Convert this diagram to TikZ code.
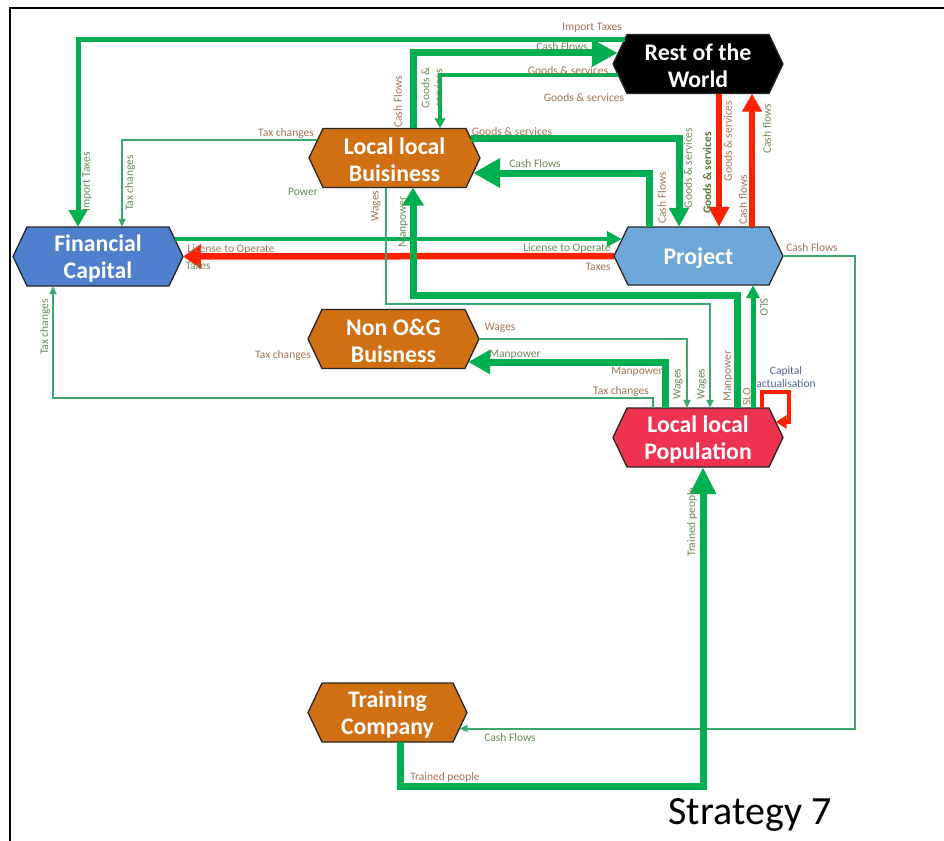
\documentclass[tikz,border=0pt]{standalone}
\usepackage{fontspec}
\setmainfont{Carlito}
\usetikzlibrary{arrows.meta}
\definecolor{gthick}{RGB}{0,176,80}
\definecolor{gthin}{RGB}{60,168,110}
\definecolor{rred}{RGB}{255,32,0}
\definecolor{lbrown}{RGB}{165,115,85}
\definecolor{lgreen}{RGB}{105,140,85}
\definecolor{ldgreen}{RGB}{80,120,50}
\definecolor{capblue}{RGB}{85,100,150}
\definecolor{orangefill}{RGB}{208,112,18}
\definecolor{fcblue}{RGB}{80,128,205}
\definecolor{prblue}{RGB}{110,168,218}
\definecolor{popred}{RGB}{238,50,80}
\tikzset{
  hexbound/.style={inner sep=0pt, draw=none},
  hextext/.style={inner sep=0pt, text=white, align=center,
    font=\fontsize{23.8}{27}\selectfont\bfseries},
  gfat/.style={draw=gthick, line width=7pt, line join=miter},
  gmed/.style={draw=gthick, line width=5pt, line join=miter},
  gnar/.style={draw=gthin, line width=2pt, line join=miter},
  rfat/.style={draw=rred, line width=6.5pt, line join=miter},
  smallhead/.style={-{Triangle[length=8pt,width=7pt]}},
  lab/.style={inner sep=0pt, font=\fontsize{11.5}{13}\selectfont},
  lb/.style={lab, text=lbrown},
  lg/.style={lab, text=lgreen},
}
\newcommand\hexshape[7]{%
  \filldraw[fill=#6, draw=black!85, line width=1.3pt]
    ({#2-#4},#3) -- ({#2-#4+14},{#3-#5}) -- ({#2+#4-14},{#3-#5}) --
    ({#2+#4},#3) -- ({#2+#4-14},{#3+#5}) -- ({#2-#4+14},{#3+#5}) -- cycle;
  \node[hexbound, minimum width={2*#4}, minimum height={2*#5}] (#1) at (#2,#3) {};
  \node[hextext] (#1t) at (#2,{#3+2}) {#7};
}
\begin{document}
\begin{tikzpicture}[x=1pt,y=-1pt]
\useasboundingbox (0,0) rectangle (944,840);
\fill[white] (0,0) rectangle (944,840);
\draw[black, line width=2pt] (10,842) -- (10,8) -- (946,8);

% nodes
\hexshape{rw}{698}{64}{85}{29.5}{black}{Rest of the\\World}
\hexshape{lbz}{394.5}{158}{85.5}{29.5}{orangefill}{Local local\\Buisiness}
\hexshape{fc}{98}{256.5}{85}{29.5}{fcblue}{Financial\\Capital}
\hexshape{pr}{698.5}{256}{84.5}{29}{prblue}{Project}
\hexshape{ng}{393.5}{339}{85.5}{29.5}{orangefill}{Non O\&G\\Buisness}
\hexshape{lp}{698}{437.5}{85}{29.5}{popred}{Local local\\Population}
\hexshape{tc}{387.5}{712.5}{79.5}{29.5}{orangefill}{Training\\Company}

% connectors
% Import Taxes
\draw[gmed, -{Triangle[length=17pt,width=18pt]}]
  ([shift={(12,5)}]rw.north west) -| ([xshift=-20pt]fc.north);
% Cash Flows LB -> RotW
\draw[gfat, -{Triangle[length=26pt,width=26pt]}]
  (lbz.north -| 413,0) |- ([shift={(5,-11)}]rw.west);
% Goods & services RotW -> LB
\draw[draw=gthick, line width=3.5pt, line join=miter, -{Triangle[length=10pt,width=10pt]}]
  ([shift={(5,11)}]rw.west) -| (lbz.north -| 440,0);
% Goods & services LB -> Project
\draw[gfat, -{Triangle[length=19pt,width=19pt]}]
  ([shift={(-9,-20)}]lbz.east) -| (pr.north -| 679,0);
% Cash Flows Project -> LB
\draw[gfat, -{Triangle[length=27pt,width=28pt]}]
  (pr.north -| 649,0) |- ([shift={(-7,15)}]lbz.east);
% License to Operate
\draw[draw=gthick, line width=4.5pt, -{Triangle[length=15pt,width=15pt]}]
  ([shift={(-8,-17.5)}]fc.east) -- ([shift={(8,-17)}]pr.west);
% Taxes (red)
\draw[rfat, -{Triangle[length=18pt,width=24pt]}] (pr.west) -- (fc.east);
% Manpower LP -> LB
\draw[gfat, -{Triangle[length=18pt,width=21pt]}]
  (lp.north -| 737,0) -- (737,295) -| (lbz.south -| 413,0);
% Wages LB -> LP
\draw[gnar, smallhead] (lbz.south -| 386,0) -- (386,304) -| (lp.north -| 710,0);
% Wages NOG -> LP
\draw[gnar, smallhead] (ng.east) -| (lp.north -| 687,0);
% Manpower LP -> NOG
\draw[gfat, -{Triangle[length=22pt,width=23pt]}]
  (lp.north -| 665,0) |- ([shift={(-11,23)}]ng.east);
% Tax changes LP -> FC
\draw[gnar, smallhead] (lp.north -| 653,0) -- (653,398) -| (fc.south -| 53,0);
% Tax changes LB -> FC
\draw[gnar, smallhead] ([shift={(8.5,-18)}]lbz.west) -| (fc.north -| 122,0);
% Cash Flows Project -> TC
\draw[gnar, smallhead] (pr.east) -- (855,256) |- ([shift={(-7.5,16)}]tc.east);
% Trained people TC -> LP
\draw[gfat, -{Triangle[length=27pt,width=25pt]}]
  (tc.south -| 400,0) -- (400,786) -| (lp.south -| 703,0);
% Red goods RotW -> Project
\draw[rfat, -{Triangle[length=20pt,width=20pt]}] (rw.south -| 719,0) -- (pr.north -| 719,0);
% Red cash Project -> RotW
\draw[rfat, -{Triangle[length=18pt,width=19pt]}] (pr.north -| 752,0) -- (rw.south -| 752,0);
% SLO
\draw[gmed, -{Triangle[length=13pt,width=13pt]}] (lp.north -| 753,0) -- (pr.south -| 753,0);
% Capital actualisation loop
\draw[draw=rred, line width=4pt, line join=miter, -{Triangle[length=11pt,width=13pt]}]
  (lp.north -| 762,0) -- (762,392) -- (789,392) -- (789,422) -- ([shift={(-7.5,-15.5)}]lp.east);

% labels
\node[lb] (l1) at (592,28) {Import Taxes};
\node[lg] (l2) at (562,47) {Cash Flows};
\node[lb] (l3) at (568,71) {Goods \& services};
\node[lb] (l4) at (584,98) {Goods \& services};
\node[lb, rotate=90] (l5) at (398,102) {Cash Flows};
\node[lg, rotate=90, align=center] (l6) at (432,88) {Goods \&\\services};
\node[lb] (l7) at (286,133) {Tax changes};
\node[lg, rotate=90] (l8) at (87,182) {Import Taxes};
\node[lg, rotate=90] (l9) at (130,183) {Tax changes};
\node[lg] (l10) at (303,192) {Power};
\node[lb] (l11) at (231,249) {License to Operate};
\node[lg] (l12) at (198,266) {Taxes};
\node[lb] (l13) at (512,132) {Goods \& services};
\node[lg] (l14) at (535,164) {Cash Flows};
\node[lb, rotate=90] (l15) at (376,206) {Wages};
\node[lg, rotate=90] (l16) at (403,222) {Manpower};
\node[lg] (l17) at (567,248) {License to Operate};
\node[lb] (l18) at (598,267) {Taxes};
\node[lb, rotate=90] (l19) at (662,198) {Cash Flows};
\node[lg, rotate=90] (l20) at (688,168) {Goods \& services};
\node[lab, text=ldgreen, rotate=90, font=\fontsize{11.5}{13}\selectfont\bfseries] (l21) at (707,173) {Goods \& services};
\node[lb, rotate=90] (l22) at (728,141) {Goods \& services};
\node[lb, rotate=90] (l23) at (743,200) {Cash flows};
\node[lg, rotate=90] (l24) at (767,129) {Cash flows};
\node[lb] (l25) at (812,248) {Cash Flows};
\node[lg, rotate=90] (l26) at (45,327) {Tax changes};
\node[lb] (l27) at (500,328) {Wages};
\node[lb] (l28) at (283,355) {Tax changes};
\node[lg] (l29) at (515,355) {Manpower};
\node[lb] (l30) at (637,372) {Manpower};
\node[lb] (l31) at (621,391) {Tax changes};
\node[lg, rotate=90] (l32) at (678,384) {Wages};
\node[lg, rotate=90] (l33) at (702,384) {Wages};
\node[lb, rotate=90] (l34) at (728,376) {Manpower};
\node[lb, rotate=90] (l35) at (747,397) {SLO};
\node[lg, rotate=-90] (l36) at (764,307) {SLO};
\node[lab, text=capblue, align=center, font=\fontsize{11.5}{13}\selectfont] (l37) at (786,377) {Capital\\actualisation};
\node[lg, rotate=90] (l38) at (692,522) {Trained people};
\node[lg] (l39) at (510,738) {Cash Flows};
\node[lb] (l40) at (445,777) {Trained people};
\node[inner sep=0pt, font=\fontsize{40}{44}\selectfont] (l41) at (750,815) {Strategy 7};
\end{tikzpicture}
\end{document}
